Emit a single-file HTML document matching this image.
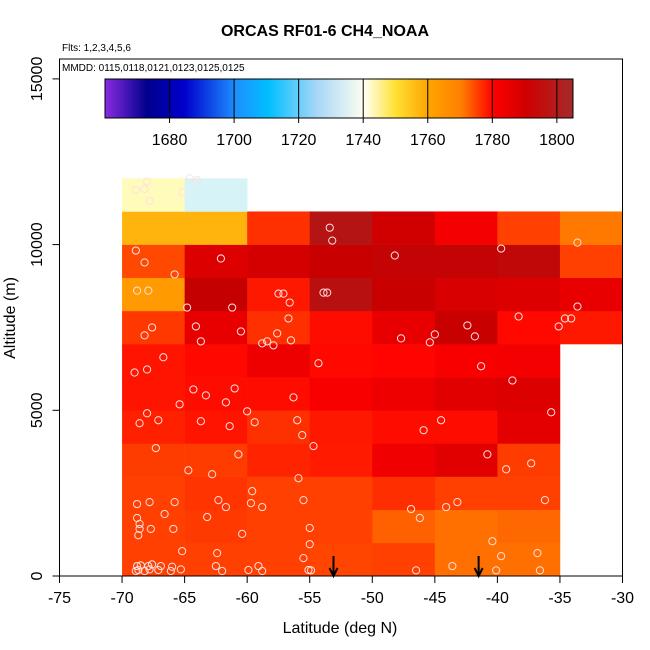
<!DOCTYPE html>
<html><head><meta charset="utf-8">
<style>
html,body{margin:0;padding:0;background:#fff;}
svg{display:block;font-family:"Liberation Sans",sans-serif;}
</style></head>
<body>
<svg id="chart" width="650" height="650" viewBox="0 0 650 650">
<defs>
<linearGradient id="cbgrad" x1="0" x2="1" y1="0" y2="0">
<stop offset="0" stop-color="#8a2be2"/>
<stop offset="0.09" stop-color="#00008b"/>
<stop offset="0.17" stop-color="#0000cd"/>
<stop offset="0.28" stop-color="#1e90ff"/>
<stop offset="0.35" stop-color="#00bfff"/>
<stop offset="0.45" stop-color="#a4d6f8"/>
<stop offset="0.555" stop-color="#fffff0"/>
<stop offset="0.62" stop-color="#ffe135"/>
<stop offset="0.69" stop-color="#ffa500"/>
<stop offset="0.76" stop-color="#ff8000"/>
<stop offset="0.83" stop-color="#ff0000"/>
<stop offset="0.9" stop-color="#d00000"/>
<stop offset="1" stop-color="#a52a2a"/>
</linearGradient>
</defs>
<text x="325" y="36" text-anchor="middle" font-size="16" font-weight="bold">ORCAS RF01-6 CH4_NOAA</text>
<text x="62" y="51" font-size="10">Flts: 1,2,3,4,5,6</text>
<g id="cells"></g>
<g id="points"></g>
<g id="arrows"></g>
<rect x="59.5" y="59" width="563" height="517" fill="none" stroke="#000" stroke-width="1"/>
<text x="62" y="71" font-size="10">MMDD: 0115,0118,0121,0123,0125,0125</text>
<g id="colorbar"></g>
<g id="xaxis"></g>
<g id="yaxis"></g>
<text x="340" y="633" text-anchor="middle" font-size="16">Latitude (deg N)</text>
<text transform="translate(15,318) rotate(-90)" text-anchor="middle" font-size="16">Altitude (m)</text>
</svg>
<script>
const latBins = [-70,-65,-60,-55,-50,-45,-40,-35];
const altBins = [0,1000,2000,3000,4000,5000,6000,7000,8000,9000,10000,11000];
const cellColors = [
 ["#ff4000","#ff4000","#ff4000","#ff4500","#ff4000","#ff7000","#ff7000",null],
 ["#ff4000","#ff3a00","#ff4000","#ff4000","#ff6000","#ff7000","#ff6800",null],
 ["#ff4000","#ff3400","#ff4000","#ff4000","#ff2e00","#ff4000","#ff4000",null],
 ["#ff3c00","#ff3c00","#ff2400","#ff1a00","#f00000","#e00000","#ff3c00",null],
 ["#ff2000","#ff1400","#ff3000","#ff1800","#ff0c00","#ff0c00","#e40000",null],
 ["#ff1400","#ff0c00","#ff0c00","#f80000","#ee0000","#e00000","#dc0000",null],
 ["#ff1400","#ff0800","#ee0000","#ff0800","#ff0400","#f80000","#f40000",null],
 ["#ff3800","#e80000","#ff3000","#ff0c00","#e80000","#c80000","#ff0800","#ff1800"],
 ["#ff9a00","#c40000","#ff1800","#b81010","#c80000","#d80000","#dc0000","#e80000"],
 ["#ff4800","#dc0000","#d40000","#c80000","#c40404","#c40404","#c00808","#ff4000"],
 ["#ffb30d","#ffb30d","#ff3000","#b41414","#d00000","#f40000","#ff4000","#ff7800"],
 ["#fffbbb","#d6f4f8",null,null,null,null,null,null]
];
const ptLat = [-68.9,-68.2,-65.8,-62.1,-48.2,-39.7,-33.6,-53.4,-53.2,-68.8,-67.9,-64.8,-61.2,-57.5,-57.1,-56.6,-53.9,-53.6,-33.6,
 -68.2,-67.6,-64.1,-63.7,-60.5,-56.7,-58.4,-57.9,-57.6,-56.5,-58.8,-47.7,-45.4,-45.0,-42.4,-41.8,-38.3,-35.1,-34.6,-34.1,
 -66.7,-69.0,-68.0,-54.3,-41.3,-38.8,-64.3,-63.3,-61.0,-65.4,-61.7,-60.0,-56.3,-68.0,-68.6,-67.1,-63.7,-61.4,-59.4,-56.0,-55.6,-54.7,
 -45.9,-44.5,-40.8,-39.3,-37.3,-35.7,-67.3,-60.7,-64.7,-62.8,-55.9,-59.6,-68.8,-67.8,-65.8,-62.3,-61.7,-59.7,-58.8,-55.5,-46.9,-46.2,
 -44.1,-43.2,-36.2,-68.8,-68.6,-68.6,-68.7,-67.7,-66.6,-65.9,-63.2,-60.4,-55.0,-55.0,-65.2,-62.4,-55.5,-40.4,-39.7,-36.8,
 -68.9,-68.8,-68.7,-68.5,-68.2,-67.9,-67.8,-67.6,-67.1,-66.9,-66.1,-66.0,-65.3,-62.5,-62.0,-59.9,-59.1,-58.8,-55.1,-54.9,-46.5,-43.6,-40.1,-36.6,
 -68.9,-68.2,-68.0,-67.8,-65.2,-64.6,-64.0];
const ptAlt = [9820,9460,9100,9580,9670,9880,10060,10510,10120,8610,8610,8100,8100,8520,8520,8250,8550,8550,8130,
 7260,7500,7530,7080,7380,7770,7080,6960,7320,7110,7020,7170,7050,7290,7560,7230,7830,7530,7770,7770,
 6600,6140,6230,6420,6330,5900,5630,5450,5660,5180,5240,4970,5390,4910,4610,4700,4670,4520,4640,4700,4250,3920,
 4400,4700,3670,3220,3400,4940,3860,3670,3190,3070,2950,2560,2170,2230,2230,2290,2080,2200,2080,2290,2020,1750,
 2080,2230,2290,1750,1570,1420,1230,1420,1870,1420,1780,1270,1450,960,750,690,540,1050,600,690,
 150,300,180,320,150,300,200,350,180,300,150,280,200,300,150,180,300,150,180,170,170,300,170,170,
 11650,11680,11900,11320,11580,12000,11950];
const arrowLat = [-53.1,-41.5];
const cbTicks = [1680,1700,1720,1740,1760,1780,1800];
const xTicks = [-75,-70,-65,-60,-55,-50,-45,-40,-35,-30];
const yTicks = [0,5000,10000,15000];

const NS="http://www.w3.org/2000/svg";
const X0=59.5,X1=622.5,LMIN=-75,LMAX=-30;
const Y0=576,YMAX=15600,YTOP=59;
const sx=v=>X0+(v-LMIN)/(LMAX-LMIN)*(X1-X0);
const sy=v=>Y0-(v/YMAX)*(Y0-YTOP);
const CB0=105,CB1=573,CMIN=1660,CMAX=1805;
const sc=v=>CB0+(v-CMIN)/(CMAX-CMIN)*(CB1-CB0);
function mk(tag,attrs,parent){const e=document.createElementNS(NS,tag);for(const k in attrs)e.setAttribute(k,attrs[k]);parent.appendChild(e);return e;}

const cells=document.getElementById('cells');
cellColors.forEach((row,r)=>row.forEach((c,i)=>{
 if(!c)return;
 const x=sx(latBins[i]),x2=sx(latBins[i]+5),y=sy(altBins[r]+1000),y2=sy(altBins[r]);
 const e=mk('rect',{x:x,y:y,width:x2-x+0.3,height:y2-y+0.3,fill:c},cells);
 
 
}));

const pts=document.getElementById('points');
ptLat.forEach((la,i)=>{
 const e=mk('circle',{cx:sx(la),cy:sy(ptAlt[i]),r:3.6,fill:'none',stroke:'#ffe0e0','stroke-width':1},pts);
 
 
});

const arr=document.getElementById('arrows');
arrowLat.forEach(la=>{
 const x=sx(la);
 const g=mk('g',{},arr);
 
 
 mk('line',{x1:x,y1:556,x2:x,y2:575,stroke:'#000','stroke-width':2},g);
 mk('polyline',{points:`${x-4},568 ${x},576 ${x+4},568`,fill:'none',stroke:'#000','stroke-width':2},g);
});

const cb=document.getElementById('colorbar');
const bar=mk('rect',{x:CB0,y:79,width:CB1-CB0,height:39,fill:'url(#cbgrad)',stroke:'#000','stroke-width':1},cb);


cbTicks.forEach(t=>{
 const x=sc(t);
 mk('line',{x1:x,y1:79,x2:x,y2:123,stroke:'#000','stroke-width':1},cb);
 const tx=mk('text',{x:x,y:145,'text-anchor':'middle','font-size':16},cb);
 tx.textContent=t;
 
 
});

const xa=document.getElementById('xaxis');
xTicks.forEach(t=>{
 const x=sx(t);
 mk('line',{x1:x,y1:576,x2:x,y2:583,stroke:'#000'},xa);
 const tx=mk('text',{x:x,y:603,'text-anchor':'middle','font-size':16},xa);
 tx.textContent=t;
 
 
});
const ya=document.getElementById('yaxis');
yTicks.forEach(t=>{
 const y=sy(t);
 mk('line',{x1:52.5,y1:y,x2:59.5,y2:y,stroke:'#000'},ya);
 const tx=mk('text',{transform:`translate(42,${y}) rotate(-90)`,'text-anchor':'middle','font-size':16},ya);
 tx.textContent=t;
 
 
});
</script>
</body></html>
